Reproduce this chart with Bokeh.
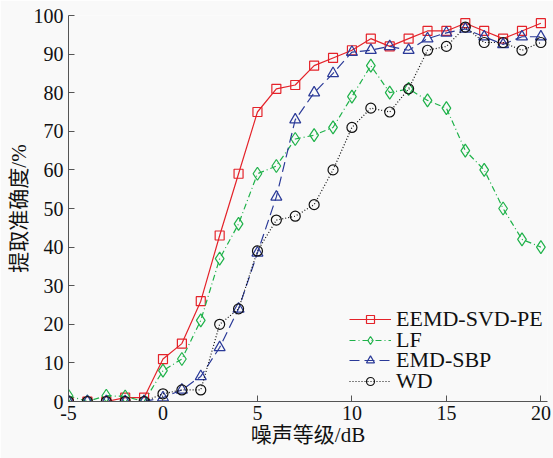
from bokeh.plotting import figure
from bokeh.models import Range1d, Legend, LegendItem, FixedTicker, PrintfTickFormatter
from bokeh.embed import file_html
from bokeh.resources import INLINE

snr = list(range(-5, 21))
eemd_svd_pe = [0, 0, 0, 1, 1, 11, 15, 26, 43, 59, 75, 81, 82, 87, 89, 91, 94, 92, 94, 96, 96, 98, 96, 94, 96, 98]
lf = [1.5, 0, 1.5, 1.3, 0, 8, 11, 21, 37, 46, 59, 61, 68, 69, 71, 79, 87, 80, 81, 78, 76, 65, 60, 50, 42, 40]
emd_sbp = [0, 0, 0, 0, 0, 1, 3, 6.5, 14, 24, 38.5, 53, 73, 80, 85, 90.5, 91, 92, 91, 94, 95.5, 96.5, 94.5, 92.5, 94.5, 94.5]
wd = [0, 0, 0, 0, 0, 2, 3, 3, 20, 24, 39, 47, 48, 51, 60, 71, 76, 75, 81, 91, 92, 97, 93, 93, 91, 93]
series_names = ["EEMD-SVD-PE", "LF", "EMD-SBP", "WD"]
x_ticks = [-5, 0, 5, 10, 15, 20]
y_ticks = list(range(0, 101, 10))

BG = "#f9f9f9"
p = figure(width=553, height=458, output_backend="svg", toolbar_location=None,
           x_range=Range1d(-5, 20.35), y_range=Range1d(0, 100),
           min_border_left=68, min_border_right=6, min_border_top=15, min_border_bottom=57,
           background_fill_color=BG, border_fill_color=BG, outline_line_color=None)
p.grid.visible = False

serif = "Liberation Serif"
cjk = "'Liberation Serif', 'Noto Sans CJK SC'"
for ax in (p.xaxis[0], p.yaxis[0]):
    ax.axis_line_color = "#555555"
    ax.axis_line_width = 1
    ax.major_tick_line_color = "#555555"
    ax.major_tick_in = 6
    ax.major_tick_out = 0
    ax.minor_tick_line_color = None
    ax.major_label_text_font = serif
    ax.major_label_text_font_size = "20px"
    ax.major_label_text_color = "#111111"
    ax.axis_label_text_font = cjk
    ax.axis_label_text_font_size = "21px"
    ax.axis_label_text_font_style = "normal"
    ax.axis_label_text_color = "#111111"
    ax.formatter = PrintfTickFormatter(format="%d")

p.xaxis.ticker = FixedTicker(ticks=x_ticks)
p.yaxis.ticker = FixedTicker(ticks=y_ticks)
p.xaxis.major_label_standoff = 4
p.yaxis.major_label_standoff = 5
p.xaxis.axis_label = "噪声等级/dB"
p.yaxis.axis_label = "提取准确度/%"
p.xaxis.axis_label_standoff = 0
p.yaxis.axis_label_standoff = 0

styles = [
    ("#e4232a", "solid", "square", 9),
    ("#1fb24a", "6 3 1 3", "diamond", 13),
    ("#2b3a98", "10 5", "triangle", 11),
    ("#111111", "1 2", "circle", 10),
]
legend_offsets = [69, 48, 28, 7]
data = [eemd_svd_pe, lf, emd_sbp, wd]
for name, ys, (col, dash, mk, sz), off in zip(series_names, data, styles, legend_offsets):
    ln = p.line(snr, ys, line_color=col, line_width=1.2, line_dash=dash)
    sc = p.scatter(snr, ys, marker=mk, size=sz, line_color=col, line_width=1.2, fill_color=None)
    lg = Legend(items=[LegendItem(label=name, renderers=[ln, sc])], location=(281, off),
                background_fill_alpha=0, border_line_color=None, label_text_font=serif,
                label_text_font_size="22px", label_text_color="#111111", glyph_width=42,
                glyph_height=20, label_height=20, label_standoff=5, spacing=0, padding=0, margin=0)
    p.add_layout(lg, "center")

open("out.html", "w").write(file_html(p, INLINE))
